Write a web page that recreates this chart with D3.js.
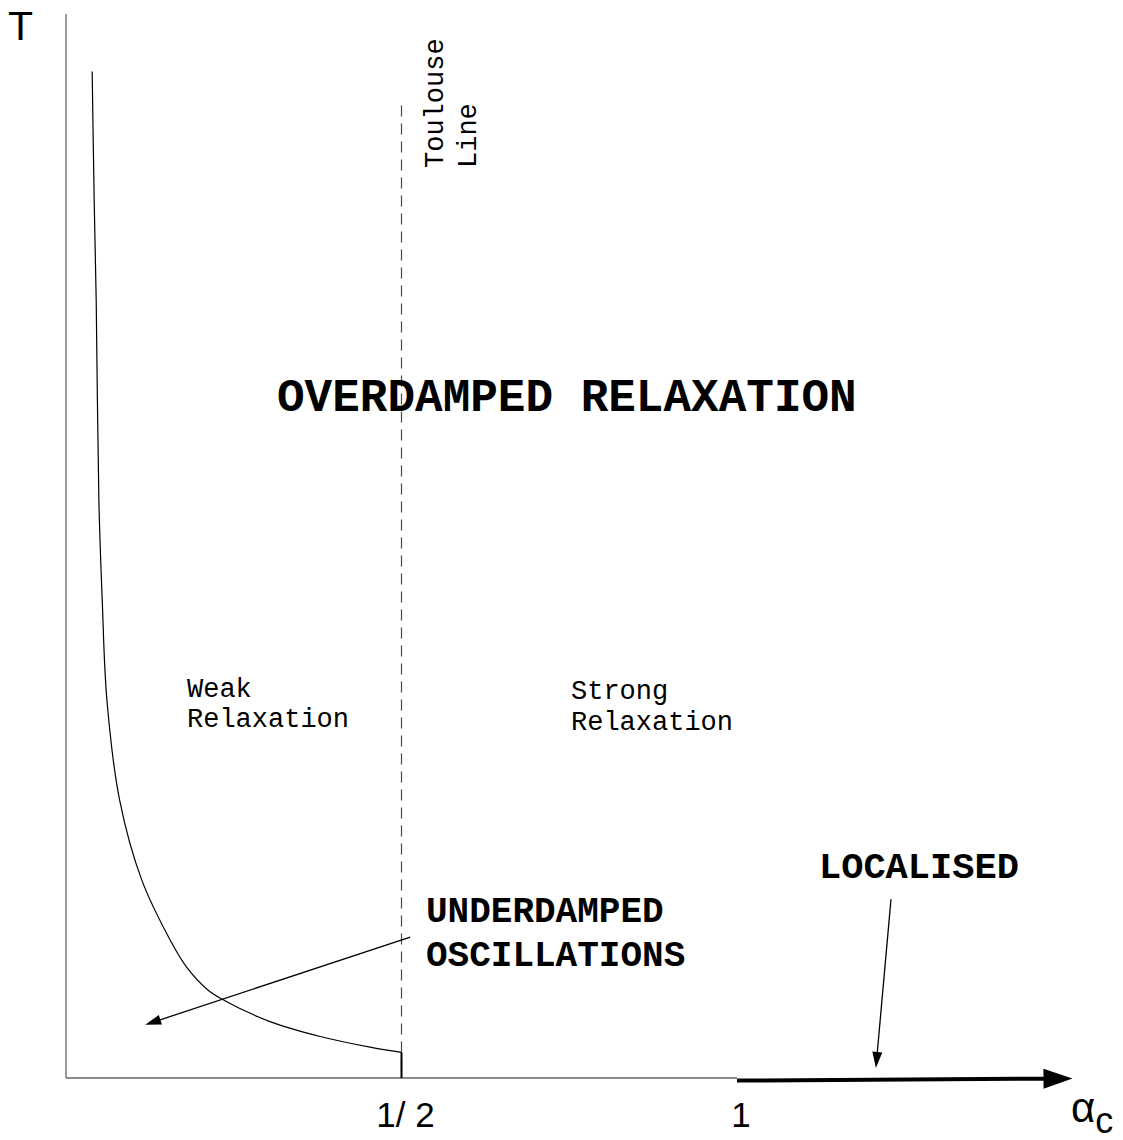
<!DOCTYPE html>
<html>
<head>
<meta charset="utf-8">
<script src="https://cdn.jsdelivr.net/npm/d3@7"></script>
<style>
	body { margin: 0; background: #fff; }
	.mono { font-family: "Courier New", "Liberation Mono", monospace; }
	.sans { font-family: "Liberation Sans", Arial, sans-serif; }
</style>
</head>
<body>
<div id="js_chart"></div>
<script>
'use strict';
// crossover line T*(alpha)
const curveAlpha = [0.039, 0.042, 0.045, 0.049, 0.054, 0.061, 0.080, 0.113, 0.155, 0.180, 0.211, 0.230, 0.304, 0.379, 0.453, 0.500];
const curveT = [0.946, 0.825, 0.731, 0.543, 0.449, 0.355, 0.261, 0.186, 0.130, 0.104, 0.083, 0.075, 0.053, 0.039, 0.029, 0.024];
const tickValues = [0.5, 1];
const tickLabels = ['1/ 2', '1'];
const toulouseAlpha = 0.5;
const toulouseTop = 0.914;
// arrows: [alpha0, T0, alpha1, T1]
const underdampedArrow = [0.513, 0.1325, 0.118, 0.050];
const localisedArrow = [1.2295, 0.168, 1.207, 0.0094];
const localisedPhase = [1.0, -0.0024, 1.5, -0.0005];

const width = 1123, height = 1140;
const color02 = '#000';
const axisColor = '#666';

const x = d3.scaleLinear().domain([0, 1.5]).range([66, 1072.5]);
const y = d3.scaleLinear().domain([0, 1]).range([1078, 14]);

const svg = d3.select('#js_chart').append('svg')
	.attr('width', width)
	.attr('height', height);

function drawLine(x1, y1, x2, y2, color, w, dash) {
	let l = svg.append('line')
		.attr('x1', x1).attr('y1', y1)
		.attr('x2', x2).attr('y2', y2)
		.style('stroke', color)
		.style('stroke-width', w);
	if (dash) l.style('stroke-dasharray', dash);
	return l;
}

// line with a filled triangular head, in data coords
function drawArrow(a, w, headLen, headHalf) {
	let x0 = x(a[0]), y0 = y(a[1]), x1 = x(a[2]), y1 = y(a[3]);
	let dx = x1 - x0, dy = y1 - y0;
	let len = Math.sqrt(dx * dx + dy * dy);
	let ux = dx / len, uy = dy / len;
	let bx = x1 - ux * headLen, by = y1 - uy * headLen;
	drawLine(x0, y0, bx + ux, by + uy, color02, w);
	svg.append('path')
		.attr('d', 'M' + x1 + ',' + y1 +
			'L' + (bx - uy * headHalf) + ',' + (by + ux * headHalf) +
			'L' + (bx + uy * headHalf) + ',' + (by - ux * headHalf) + 'Z')
		.style('fill', color02);
}

// axes
drawLine(x(0), y(0), x(0), 14, axisColor, 1.3);
drawLine(x(0), y(0), x(1), y(0), axisColor, 1.3);

// toulouse line
drawLine(x(toulouseAlpha), y(toulouseTop), x(toulouseAlpha), y(0), '#4a4a4a', 1.2, '11,7');

// crossover curve
const pts = curveAlpha.map(function (a, i) { return [a, curveT[i]]; });
svg.append('path')
	.datum(pts)
	.attr('d', d3.line()
		.x(function (d) { return x(d[0]); })
		.y(function (d) { return y(d[1]); })
		.curve(d3.curveCatmullRom.alpha(0.5)))
	.style('fill', 'none')
	.style('stroke', color02)
	.style('stroke-width', 1.2);
drawLine(x(0.5), y(curveT[curveT.length - 1]), x(0.5), y(0), color02, 2);

// arrows
drawArrow(localisedPhase, 4, 29, 10);
drawArrow(underdampedArrow, 1.3, 16, 5);
drawArrow(localisedArrow, 1.3, 16, 5);

// tick labels
svg.selectAll('.tickLbl').data(tickValues).enter().append('text')
	.classed('sans', true)
	.attr('x', function (d) { return x(d) + 4; })
	.attr('y', 1127)
	.style('font-size', '35px')
	.style('text-anchor', 'middle')
	.text(function (d, i) { return tickLabels[i]; });

svg.append('text').classed('sans', true)
	.attr('x', 8).attr('y', 40)
	.style('font-size', '41px')
	.text('T');

let ac = svg.append('text').classed('sans', true)
	.attr('x', 1071).attr('y', 1122);
ac.append('tspan').style('font-size', '42px').text('α');
ac.append('tspan').attr('dy', 11).style('font-size', '36px').text('c');

// region labels
function label(txt, px, py, size, bold) {
	svg.append('text').classed('mono', true)
		.attr('x', px).attr('y', py)
		.style('font-size', size + 'px')
		.style('font-weight', bold ? 'bold' : 'normal')
		.text(txt);
}
label('OVERDAMPED RELAXATION', 277, 411, 46, true);
label('Weak', 187, 697, 27, false);
label('Relaxation', 187, 727, 27, false);
label('Strong', 571, 699, 27, false);
label('Relaxation', 571, 730, 27, false);
label('UNDERDAMPED', 426, 922, 36, true);
label('OSCILLATIONS', 426, 966, 36, true);
label('LOCALISED', 819, 878, 37, true);

svg.append('text').classed('mono', true)
	.attr('transform', 'translate(443,168) rotate(-90)')
	.style('font-size', '27px')
	.text('Toulouse');
svg.append('text').classed('mono', true)
	.attr('transform', 'translate(476,168) rotate(-90)')
	.style('font-size', '27px')
	.text('Line');
</script>
</body>
</html>
